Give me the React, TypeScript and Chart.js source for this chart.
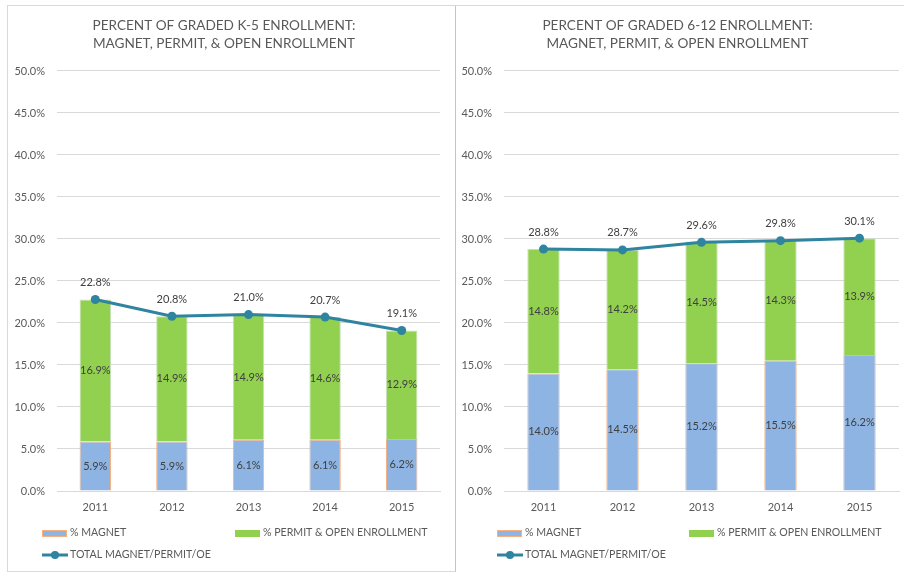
import React, { useEffect, useRef } from "react";
import { Chart, registerables } from "chart.js";

Chart.register(...registerables);

const years = ["2011", "2012", "2013", "2014", "2015"];

const k5Magnet = [5.9, 5.9, 6.1, 6.1, 6.2];
const k5Permit = [16.9, 14.9, 14.9, 14.6, 12.9];
const k5Total = [22.8, 20.8, 21.0, 20.7, 19.1];

const hsMagnet = [14.0, 14.5, 15.2, 15.5, 16.2];
const hsPermit = [14.8, 14.2, 14.5, 14.3, 13.9];
const hsTotal = [28.8, 28.7, 29.6, 29.8, 30.1];

const k5Title = ["PERCENT OF GRADED K-5 ENROLLMENT:", "MAGNET, PERMIT, & OPEN ENROLLMENT"];
const hsTitle = ["PERCENT OF GRADED 6-12 ENROLLMENT:", "MAGNET, PERMIT, & OPEN ENROLLMENT"];

const legendNames = ["% MAGNET", "% PERMIT & OPEN ENROLLMENT", "TOTAL MAGNET/PERMIT/OE"];

const FONT = "Lato, 'Open Sans', sans-serif";
const TEXT = "#595959";
const LABEL = "#404040";
const BLUE = "#8eb4e3";
const BLUE_BORDER = "#f4b183";
const GREEN = "#92d050";
const GREEN_BORDER = "#c5e0b4";
const TEAL = "#2f84a0";

type Cfg = {
  title: string[];
  magnet: number[];
  permit: number[];
  total: number[];
  yWidth: number;
  padRight: number;
  legendX: [number, number];
};

function makeChart(canvas: HTMLCanvasElement, cfg: Cfg) {
  const labelsPlugin = {
    id: "valueLabels",
    afterDatasetsDraw(chart: any) {
      const ctx = chart.ctx;
      ctx.save();
      ctx.font = `11px ${FONT}`;
      ctx.fillStyle = LABEL;
      ctx.textAlign = "center";
      ctx.textBaseline = "middle";
      chart.data.datasets.forEach((ds: any, di: number) => {
        const meta = chart.getDatasetMeta(di);
        meta.data.forEach((el: any, i: number) => {
          const v = ds.data[i] as number;
          const txt = v.toFixed(1) + "%";
          if (ds.type === "line") {
            ctx.fillText(txt, el.x, el.y - 17);
          } else {
            ctx.fillText(txt, el.x, (el.y + el.base) / 2);
          }
        });
      });
      ctx.restore();
    },
  };

  const legendPlugin = {
    id: "gridLegend",
    afterDraw(chart: any) {
      const ctx = chart.ctx;
      const area = chart.chartArea;
      const y1 = area.bottom + 42;
      const y2 = area.bottom + 64;
      const [xa, xb] = cfg.legendX;
      ctx.save();
      ctx.font = `10.6px ${FONT}`;
      ctx.fillStyle = TEXT;
      ctx.textBaseline = "middle";
      ctx.textAlign = "left";
      ctx.fillStyle = BLUE;
      ctx.fillRect(xa, y1 - 3, 25, 7);
      ctx.strokeStyle = BLUE_BORDER;
      ctx.lineWidth = 1;
      ctx.strokeRect(xa + 0.5, y1 - 2.5, 24, 6);
      ctx.fillStyle = TEXT;
      ctx.fillText(legendNames[0], xa + 28, y1);
      ctx.fillStyle = GREEN;
      ctx.fillRect(xb, y1 - 3, 25, 7);
      ctx.fillStyle = TEXT;
      ctx.fillText(legendNames[1], xb + 28, y1);
      ctx.strokeStyle = TEAL;
      ctx.lineWidth = 3;
      ctx.beginPath();
      ctx.moveTo(xa, y2);
      ctx.lineTo(xa + 26, y2);
      ctx.stroke();
      ctx.fillStyle = TEAL;
      ctx.beginPath();
      ctx.arc(xa + 13, y2, 4, 0, Math.PI * 2);
      ctx.fill();
      ctx.fillStyle = TEXT;
      ctx.fillText(legendNames[2], xa + 28, y2);
      ctx.restore();
    },
  };

  return new Chart(canvas, {
    type: "bar",
    data: {
      labels: years,
      datasets: [
        {
          type: "line",
          label: legendNames[2],
          data: cfg.total,
          borderColor: TEAL,
          backgroundColor: TEAL,
          borderWidth: 3,
          pointRadius: 4.5,
          pointBackgroundColor: TEAL,
          pointBorderWidth: 0,
          stack: "total",
          order: 0,
        } as any,
        {
          type: "bar",
          label: legendNames[0],
          data: cfg.magnet,
          backgroundColor: BLUE,
          borderColor: BLUE_BORDER,
          borderWidth: 1,
          stack: "bars",
          order: 1,
          barPercentage: 0.41,
          categoryPercentage: 1,
        },
        {
          type: "bar",
          label: legendNames[1],
          data: cfg.permit,
          backgroundColor: GREEN,
          borderColor: GREEN_BORDER,
          borderWidth: 1,
          stack: "bars",
          order: 1,
          barPercentage: 0.41,
          categoryPercentage: 1,
        },
      ],
    },
    options: {
      animation: false,
      responsive: false,
      maintainAspectRatio: false,
      layout: { padding: { left: 0, right: cfg.padRight, top: 0, bottom: 0 } },
      plugins: {
        legend: { display: false },
        tooltip: { enabled: false },
        title: {
          display: true,
          text: cfg.title,
          color: TEXT,
          font: { family: FONT, size: 13.6, weight: "normal", lineHeight: 1.36 },
          padding: { top: 10, bottom: 18 },
        },
      },
      scales: {
        x: {
          stacked: true,
          grid: { display: false, drawTicks: false },
          border: { color: "#d9d9d9", width: 1 },
          ticks: { color: TEXT, font: { family: FONT, size: 11 }, padding: 10 },
          afterFit: (s: any) => {
            s.height = 79;
          },
        },
        y: {
          stacked: true,
          min: 0,
          max: 50,
          grid: { color: "#d9d9d9", drawTicks: false },
          border: { display: false },
          ticks: {
            stepSize: 5,
            color: TEXT,
            font: { family: FONT, size: 11 },
            padding: 12,
            callback: (v: any) => Number(v).toFixed(1) + "%",
          },
          afterFit: (s: any) => {
            s.width = cfg.yWidth;
          },
        },
      },
    },
    plugins: [labelsPlugin, legendPlugin],
  } as any);
}

function Panel({ cfg, left, width }: { cfg: Cfg; left: number; width: number }) {
  const ref = useRef<HTMLCanvasElement>(null);
  useEffect(() => {
    if (!ref.current) return;
    const c = makeChart(ref.current, cfg);
    return () => c.destroy();
  }, []);
  return (
    <canvas
      ref={ref}
      width={width}
      height={564}
      style={{ position: "absolute", left, top: 6, width, height: 564 }}
    />
  );
}

export default function App() {
  return (
    <div
      style={{
        position: "absolute",
        left: 0,
        top: 0,
        width: 904,
        height: 572,
        background: "#ffffff",
        overflow: "hidden",
      }}
    >
      <div
        style={{
          position: "absolute",
          left: 7,
          top: 5,
          width: 447,
          height: 565,
          border: "1px solid #d9d9d9",
          borderRight: "1px solid #c4c4c4",
        }}
      />
      <div
        style={{
          position: "absolute",
          left: 455,
          top: 5,
          width: 460,
          height: 0,
          borderTop: "1px solid #d9d9d9",
        }}
      />
      <Panel
        left={8}
        width={446}
        cfg={{
          title: k5Title,
          magnet: k5Magnet,
          permit: k5Permit,
          total: k5Total,
          yWidth: 49,
          padRight: 14,
          legendX: [34, 227],
        }}
      />
      <Panel
        left={456}
        width={448}
        cfg={{
          title: hsTitle,
          magnet: hsMagnet,
          permit: hsPermit,
          total: hsTotal,
          yWidth: 48,
          padRight: 5,
          legendX: [41, 233],
        }}
      />
    </div>
  );
}
